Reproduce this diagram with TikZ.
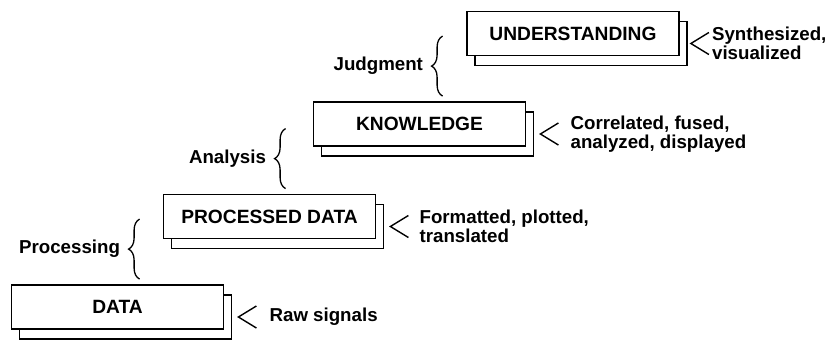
\documentclass[tikz,border=0pt]{standalone}
\usepackage{fontspec}
\setmainfont{Liberation Sans}
\usetikzlibrary{calc,shadows,decorations.pathreplacing}

\tikzset{
	niveau/.style={draw,line width=1.8pt,fill=white,minimum width=212pt,minimum height=44pt,inner sep=0pt,
		font=\fontsize{19.2}{20}\selectfont\bfseries,
		copy shadow={shadow xshift=8pt,shadow yshift=-10pt,draw=black,fill=white,line width=1.8pt}},
	etiq/.style={font=\fontsize{18.7}{18.5}\selectfont\bfseries,align=left,inner sep=0pt},
	accol/.style={decorate,decoration={brace,amplitude=11pt},line width=1.3pt},
	chevron/.style={line width=1.4pt}
}

\begin{document}
\begin{tikzpicture}[x=1pt,y=1pt]
				\useasboundingbox (0,0) rectangle (839,341);
				% Niveaux
				\node [niveau] (data) at (117.5,34) {DATA};
				\node [niveau] (proc) at (269.5,124.5) {PROCESSED DATA};
				\node [niveau] (know) at (419.5,217) {KNOWLEDGE};
				\node [niveau] (und) at (573,307.5) {UNDERSTANDING};
				% Chevrons
				\coordinate (cData) at ($(data.east)+(14,-10)$);
				\coordinate (cProc) at ($(proc.east)+(14,-10)$);
				\coordinate (cKnow) at ($(know.east)+(14,-10)$);
				\coordinate (cUnd) at ($(und.east)+(11,-10)$);
				\draw [chevron] ($(cData)+(18,11)$) -- (cData) -- ++(18,-11);
				\draw [chevron] ($(cProc)+(18,11)$) -- (cProc) -- ++(18,-11);
				\draw [chevron] ($(cKnow)+(18,11)$) -- (cKnow) -- ++(18,-11);
				\draw [chevron] ($(cUnd)+(18,11)$) -- (cUnd) -- ++(18,-11);
				\node [etiq,anchor=west] (dataTxt) at ($(cData)+(31,0)$) {Raw signals};
				\node [etiq,anchor=west] (procTxt) at ($(cProc)+(29,0)$) {Formatted, plotted,\\translated};
				\node [etiq,anchor=west] (knowTxt) at ($(cKnow)+(30,0)$) {Correlated, fused,\\analyzed, displayed};
				\node [etiq,anchor=west] (undTxt) at ($(cUnd)+(21,0)$) {Synthesized,\\visualized};
				% Accolades
				\coordinate (bProc) at ($(data.north west)+(129,5)$);
				\coordinate (bAna) at ($(proc.north west)+(123,5)$);
				\coordinate (bJug) at ($(know.north west)+(130,5)$);
				\draw [accol] (bProc) -- ++(0,60) node [midway,anchor=east,xshift=-19pt,etiq] (procLbl) {Processing};
				\draw [accol] (bAna) -- ++(0,60) node [midway,anchor=east,xshift=-19pt,etiq] (anaLbl) {Analysis};
				\draw [accol] (bJug) -- ++(0,60) node [midway,anchor=east,xshift=-19pt,etiq] (jugLbl) {Judgment};
				\end{tikzpicture}
\end{document}
